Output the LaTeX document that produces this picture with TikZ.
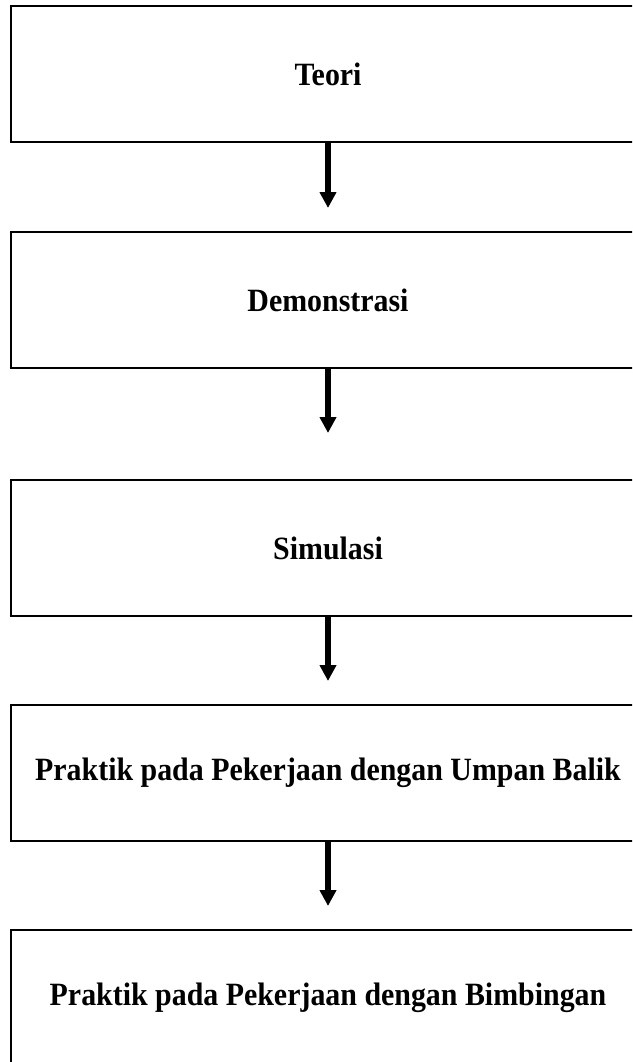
\documentclass[tikz,border=0pt]{standalone}
\usepackage{fontspec}
\setmainfont{Liberation Serif}[FakeStretch=0.92]
\usetikzlibrary{arrows.meta}

\begin{document}
\begin{tikzpicture}[
  x=1pt, y=-1pt,
  font=\rmfamily,
  stage/.style={draw=black, fill=white, line width=2pt, minimum width=634pt,
    minimum height=136pt, align=center, inner sep=0pt,
    font=\rmfamily\bfseries\fontsize{32.5}{38}\selectfont},
  flow/.style={draw=black, line width=5.5pt, -{Triangle[length=16pt,width=16pt]}},
]
\useasboundingbox (0,0) rectangle (632,1062);
\clip (0,0) rectangle (632,1062);

% ===== stages =====
\node[stage] (teori) at (328,74) {Teori};
\node[stage] (demo) at (328,300) {Demonstrasi};
\node[stage] (simul) at (328,548) {Simulasi};
\node[stage] (umpan) at (328,773) {Praktik pada Pekerjaan dengan Umpan Balik};
\node[stage] (bimb) at (328,998) {Praktik pada Pekerjaan dengan Bimbingan};

% ===== arrows =====
\draw[flow, shorten >=23pt] (teori) -- (demo);
\draw[flow, shorten >=46pt] (demo) -- (simul);
\draw[flow, shorten >=23pt] (simul) -- (umpan);
\draw[flow, shorten >=23pt] (umpan) -- (bimb);

\end{tikzpicture}
\end{document}
